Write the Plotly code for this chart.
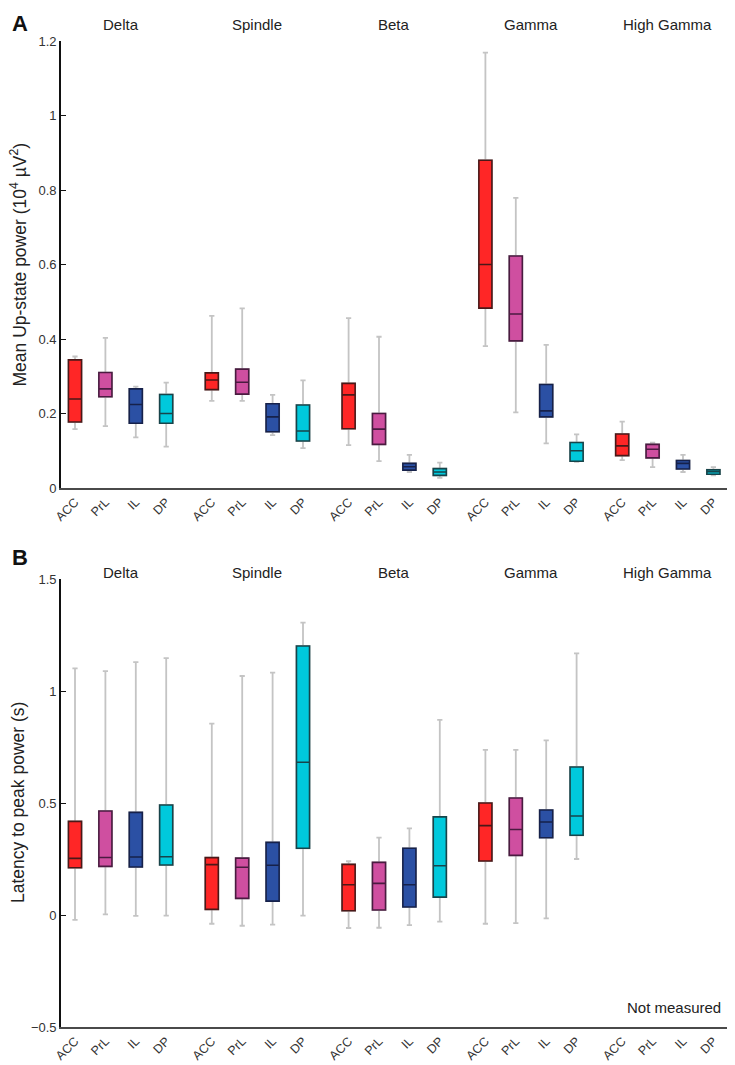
import plotly.graph_objects as go

bands = ["Delta", "Spindle", "Beta", "Gamma", "High Gamma"]
regions = ["ACC", "PrL", "IL", "DP"]
colors = {"ACC": "#FF2626", "PrL": "#CF4FA0", "IL": "#2B50A4", "DP": "#00C9DC"}
borders = {"ACC": "#4A1818", "PrL": "#4A1B40", "IL": "#16214A", "DP": "#17444A"}

# Panel A: mean Up-state power (10^4 uV^2), one value per band
a_lo = {"ACC": [0.158, 0.234, 0.115, 0.381, 0.075],
        "PrL": [0.166, 0.234, 0.072, 0.203, 0.056],
        "IL":  [0.136, 0.142, 0.043, 0.120, 0.043],
        "DP":  [0.111, 0.107, 0.027, 0.070, 0.034]}
a_q1 = {"ACC": [0.177, 0.264, 0.159, 0.483, 0.087],
        "PrL": [0.245, 0.252, 0.117, 0.395, 0.081],
        "IL":  [0.174, 0.151, 0.048, 0.191, 0.051],
        "DP":  [0.174, 0.126, 0.034, 0.072, 0.037]}
a_med = {"ACC": [0.239, 0.290, 0.250, 0.600, 0.113],
         "PrL": [0.266, 0.284, 0.158, 0.467, 0.104],
         "IL":  [0.224, 0.191, 0.057, 0.207, 0.066],
         "DP":  [0.200, 0.153, 0.043, 0.100, 0.044]}
a_q3 = {"ACC": [0.344, 0.309, 0.281, 0.880, 0.145],
        "PrL": [0.310, 0.319, 0.200, 0.623, 0.117],
        "IL":  [0.266, 0.226, 0.066, 0.278, 0.074],
        "DP":  [0.251, 0.223, 0.052, 0.122, 0.049]}
a_hi = {"ACC": [0.353, 0.462, 0.456, 1.169, 0.178],
        "PrL": [0.403, 0.482, 0.406, 0.779, 0.122],
        "IL":  [0.272, 0.250, 0.089, 0.384, 0.089],
        "DP":  [0.283, 0.289, 0.068, 0.144, 0.056]}

# Panel B: latency to peak power (s); High Gamma not measured
b_bands = ["Delta", "Spindle", "Beta", "Gamma"]
b_lo = {"ACC": [-0.022, -0.039, -0.058, -0.039],
        "PrL": [0.003, -0.048, -0.057, -0.036],
        "IL":  [-0.004, -0.043, -0.045, -0.015],
        "DP":  [-0.003, -0.003, -0.030, 0.250]}
b_q1 = {"ACC": [0.211, 0.025, 0.019, 0.241],
        "PrL": [0.217, 0.074, 0.022, 0.266],
        "IL":  [0.214, 0.062, 0.036, 0.345],
        "DP":  [0.223, 0.298, 0.080, 0.356]}
b_med = {"ACC": [0.253, 0.225, 0.135, 0.399],
         "PrL": [0.257, 0.213, 0.141, 0.382],
         "IL":  [0.259, 0.222, 0.135, 0.415],
         "DP":  [0.260, 0.682, 0.220, 0.442]}
b_q3 = {"ACC": [0.418, 0.256, 0.226, 0.500],
        "PrL": [0.464, 0.254, 0.235, 0.522],
        "IL":  [0.458, 0.324, 0.298, 0.469],
        "DP":  [0.491, 1.201, 0.438, 0.661]}
b_hi = {"ACC": [1.101, 0.854, 0.240, 0.737],
        "PrL": [1.089, 1.067, 0.345, 0.737],
        "IL":  [1.129, 1.082, 0.387, 0.780],
        "DP":  [1.147, 1.305, 0.871, 1.168]}

a_ticks = [0, 0.2, 0.4, 0.6, 0.8, 1.0, 1.2]
a_ticktext = ["0", "0.2", "0.4", "0.6", "0.8", "1", "1.2"]
b_ticks = [-0.5, 0, 0.5, 1.0, 1.5]
b_ticktext = ["\u22120.5", "0", "0.5", "1", "1.5"]

STRIDE = 4.5
BOXW = 0.43
FONT = "Liberation Sans, Arial, sans-serif"


def pos(band_idx, reg_idx):
    return band_idx * STRIDE + reg_idx


fig = go.Figure()


def add_panel(band_list, lo, q1, med, q3, hi, xa, ya):
    for ri, r in enumerate(regions):
        xs = [pos(bi, ri) for bi in range(len(band_list))]
        # whiskers (grey)
        fig.add_trace(go.Box(
            x=xs, q1=q1[r], median=med[r], q3=q3[r],
            lowerfence=lo[r], upperfence=hi[r],
            width=BOXW, whiskerwidth=0.4,
            line=dict(color="#C4C4C4", width=1.8),
            fillcolor="rgba(0,0,0,0)", boxpoints=False,
            xaxis=xa, yaxis=ya, showlegend=False, hoverinfo="skip"))
        # box body
        fig.add_trace(go.Box(
            x=xs, q1=q1[r], median=med[r], q3=q3[r],
            lowerfence=q1[r], upperfence=q3[r],
            width=BOXW, whiskerwidth=0,
            line=dict(color=borders[r], width=1.6),
            fillcolor=colors[r], boxpoints=False,
            xaxis=xa, yaxis=ya, showlegend=False, name=r))


add_panel(bands, a_lo, a_q1, a_med, a_q3, a_hi, "x", "y")
add_panel(b_bands, b_lo, b_q1, b_med, b_q3, b_hi, "x2", "y2")

tickvals = [pos(bi, ri) for bi in range(len(bands)) for ri in range(len(regions))]
ticktext = [r for _ in bands for r in regions]

# page body has an 8px margin; reference pixel coords are shifted by it
OFF = 8
W, H = 735 - OFF, 1065 - OFF
ML, MT = 61 - OFF, 41 - OFF
PLOT_BOTTOM = 1027 - OFF
MR = 0
MB = H - PLOT_BOTTOM
PW, PH = W - ML - MR, H - MT - MB
px_per_unit = 30.4
x0 = -(75 - 61) / px_per_unit
xrange = [x0, x0 + PW / px_per_unit]


def py(pix):  # reference pixel y -> paper y
    return (PLOT_BOTTOM - (pix - OFF)) / PH


def pxx(pix):  # reference pixel x -> paper x
    return ((pix - OFF) - ML) / PW


a_dom = [py(488), 1.0]
b_dom = [0.0, py(579)]

xcommon = dict(range=xrange, showgrid=False, zeroline=False, showline=True,
               linecolor="#4A4A4A", linewidth=2, ticks="", tickmode="array",
               tickvals=tickvals, ticktext=ticktext, tickangle=-45,
               tickfont=dict(family=FONT, size=12.5, color="#333333"))
ycommon = dict(showgrid=False, zeroline=False, showline=True, linecolor="#111111",
               linewidth=1.6, ticks="inside", ticklen=5, tickcolor="#111111",
               tickwidth=1.4, tickfont=dict(family=FONT, size=13, color="#333333"),
               tickmode="array")

fig.update_layout(
    width=W, height=H,
    margin=dict(l=ML, r=MR, t=MT, b=MB, autoexpand=False),
    paper_bgcolor="white", plot_bgcolor="white",
    boxmode="overlay",
    xaxis=dict(xcommon, anchor="y"),
    xaxis2=dict(xcommon, anchor="y2"),
    yaxis=dict(ycommon, domain=a_dom, range=[0, 1.2], tickvals=a_ticks,
               ticktext=a_ticktext, anchor="x"),
    yaxis2=dict(ycommon, domain=b_dom, range=[-0.5, 1.5], tickvals=b_ticks,
                ticktext=b_ticktext, anchor="x2"),
    font=dict(family=FONT, color="#222222"),
)

ann = []
for bi, b in enumerate(bands):
    xc = pos(bi, 1.5)
    ann.append(dict(x=xc, xref="x", y=py(25), yref="paper", text=b, showarrow=False,
                    font=dict(family=FONT, size=15, color="#222222"),
                    xanchor="center", yanchor="middle"))
    ann.append(dict(x=xc, xref="x", y=py(572), yref="paper", text=b, showarrow=False,
                    font=dict(family=FONT, size=15, color="#222222"),
                    xanchor="center", yanchor="middle"))
ann.append(dict(x=pxx(20), xref="paper", y=py(9), yref="paper", text="<b>A</b>",
                showarrow=False, font=dict(family=FONT, size=22, color="#111111"),
                xanchor="center", yanchor="top"))
ann.append(dict(x=pxx(20), xref="paper", y=py(557), yref="paper", text="<b>B</b>",
                showarrow=False, font=dict(family=FONT, size=22, color="#111111"),
                xanchor="center", yanchor="middle"))
ann.append(dict(x=pxx(18), xref="paper", y=py(264.5), yref="paper",
                text="Mean Up-state power (10<sup>4</sup> \u00b5V<sup>2</sup>)",
                textangle=-90, showarrow=False,
                font=dict(family=FONT, size=17.5, color="#222222"),
                xanchor="center", yanchor="middle"))
ann.append(dict(x=pxx(18), xref="paper", y=py(803), yref="paper",
                text="Latency to peak power (s)", textangle=-90, showarrow=False,
                font=dict(family=FONT, size=17.5, color="#222222"),
                xanchor="center", yanchor="middle"))
ann.append(dict(x=pxx(723), xref="paper", y=py(1007), yref="paper",
                text="Not measured", showarrow=False,
                font=dict(family=FONT, size=15, color="#222222"),
                xanchor="right", yanchor="middle"))
fig.update_layout(annotations=ann)

fig.write_html("out.html")
